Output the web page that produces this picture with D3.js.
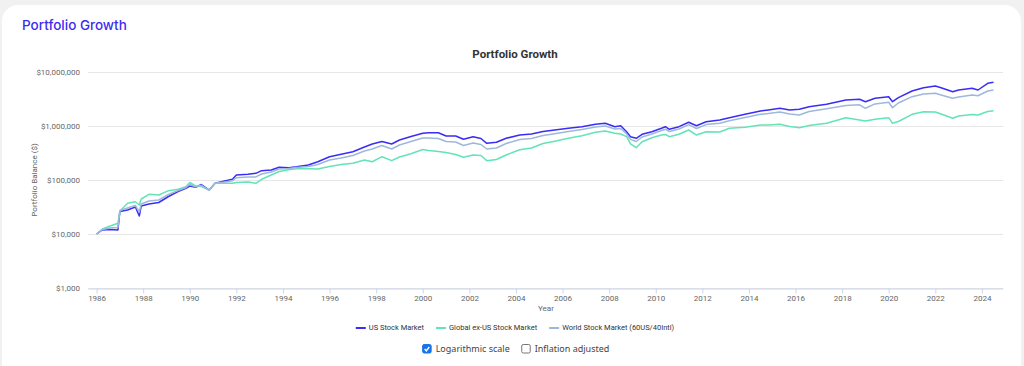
<!DOCTYPE html>
<html>
<head>
<meta charset="utf-8">
<script src="https://cdn.jsdelivr.net/npm/d3@7"></script>
<style>
  html, body { margin: 0; padding: 0; background: #f1f1f1; }
  svg { display: block; font-family: Roboto, "Noto Sans", sans-serif; }
</style>
</head>
<body>
<svg width="1024" height="366"></svg>
<script>
// values, growth of $10,000
var months = [
  "1986-01", "1986-04", "1986-08", "1986-12", "1987-01", "1987-05", "1987-09", "1987-11", "1987-12", "1988-04",
  "1988-09", "1989-02", "1989-07", "1989-11", "1990-01", "1990-04", "1990-07", "1990-11", "1991-02", "1991-07",
  "1991-11", "1992-01", "1992-07", "1992-11", "1993-02", "1993-07", "1993-11", "1994-04", "1994-08", "1995-02",
  "1995-07", "1996-01", "1996-07", "1997-01", "1997-07", "1997-11", "1998-04", "1998-09", "1999-01", "1999-07",
  "2000-01", "2000-04", "2000-09", "2001-01", "2001-06", "2001-10", "2002-03", "2002-07", "2002-10", "2003-03",
  "2003-08", "2004-03", "2004-09", "2005-03", "2005-09", "2006-04", "2006-11", "2007-06", "2007-11", "2008-04",
  "2008-07", "2008-10", "2008-12", "2009-03", "2009-06", "2009-11", "2010-04", "2010-06", "2010-08", "2011-01",
  "2011-06", "2011-10", "2012-03", "2012-10", "2013-03", "2013-11", "2014-07", "2014-11", "2015-05", "2015-10",
  "2016-03", "2016-08", "2017-05", "2018-03", "2018-10", "2019-01", "2019-06", "2020-01", "2020-03", "2020-06",
  "2021-01", "2021-07", "2022-01", "2022-04", "2022-10", "2023-01", "2023-08", "2023-11", "2024-04", "2024-07"
];

var usStock = [
  10000, 11900, 12100, 11900, 26100, 27800, 31600, 21500, 33000, 35900,
  38300, 49500, 61200, 70200, 77400, 73200, 82500, 65300, 86900, 95800,
  103000, 124000, 128000, 133000, 149000, 153000, 172000, 169000, 176000, 190000,
  218000, 270000, 299000, 334000, 408000, 464000, 516000, 464000, 551000, 639000,
  732000, 751000, 751000, 653000, 653000, 567000, 634000, 587000, 478000, 499000,
  592000, 681000, 711000, 791000, 843000, 907000, 971000, 1075000, 1122000, 971000,
  1013000, 784000, 634000, 592000, 702000, 784000, 907000, 971000, 869000, 971000,
  1171000, 1013000, 1201000, 1292000, 1425000, 1647000, 1896000, 1979000, 2127000, 1979000,
  2039000, 2278000, 2523000, 3030000, 3122000, 2818000, 3258000, 3489000, 2818000, 3343000,
  4448000, 5121000, 5505000, 5121000, 4318000, 4642000, 4990000, 4642000, 6177000, 6447000
];

var globalExUs = [
  10000, 12400, 14100, 15800, 26700, 37000, 39600, 34400, 44500, 54300,
  52700, 63400, 67300, 75100, 89900, 77400, 75800, 65300, 86900, 86900,
  86900, 89900, 91800, 86900, 103000, 124000, 144000, 155000, 161000, 161000,
  160000, 178000, 194000, 204000, 235000, 218000, 270000, 228000, 267000, 307000,
  367000, 352000, 337000, 323000, 297000, 263000, 290000, 284000, 228000, 240000,
  290000, 364000, 391000, 474000, 523000, 592000, 661000, 764000, 808000, 732000,
  711000, 634000, 468000, 396000, 512000, 607000, 681000, 696000, 634000, 702000,
  843000, 681000, 784000, 774000, 907000, 946000, 1044000, 1044000, 1075000, 979000,
  930000, 1022000, 1122000, 1425000, 1292000, 1238000, 1331000, 1425000, 1122000, 1212000,
  1647000, 1840000, 1817000, 1668000, 1389000, 1532000, 1633000, 1598000, 1856000, 1920000
];

var worldStock = [
  10000, 12100, 12900, 13200, 27200, 30300, 33700, 25600, 35900, 40800,
  42600, 53900, 63900, 72600, 82500, 74800, 79800, 64500, 86900, 91800,
  97100, 110000, 114000, 114000, 129000, 141000, 160000, 163000, 170000, 178000,
  194000, 235000, 256000, 284000, 344000, 375000, 435000, 375000, 445000, 516000,
  600000, 600000, 587000, 516000, 505000, 435000, 484000, 454000, 375000, 391000,
  474000, 562000, 587000, 667000, 717000, 791000, 858000, 958000, 1000000, 880000,
  899000, 711000, 565000, 516000, 626000, 711000, 825000, 872000, 791000, 880000,
  1061000, 899000, 1061000, 1122000, 1248000, 1437000, 1647000, 1697000, 1817000, 1668000,
  1598000, 1856000, 2082000, 2397000, 2470000, 2127000, 2566000, 2748000, 2182000, 2666000,
  3489000, 3914000, 4033000, 3751000, 3258000, 3444000, 3751000, 3640000, 4448000, 4642000
];

var seriesNames = ["US Stock Market", "Global ex-US Stock Market", "World Stock Market (60US/40Intl)"];
var seriesColors = ["#3b2cf6", "#63e4b8", "#9db8dd"];
var yTicks = [1000, 10000, 100000, 1000000, 10000000];
var xTickYears = d3.range(1986, 2025, 2);
var optionLabels = ["Logarithmic scale", "Inflation adjusted"];
var optionChecked = [true, false];

var svg = d3.select("svg");

// white card
svg.append("rect")
  .attr("x", 2).attr("y", 5)
  .attr("width", 1019).attr("height", 400)
  .attr("rx", 16)
  .attr("fill", "#fff");

svg.append("text")
  .attr("x", 22).attr("y", 30)
  .style("font-family", "Inter, 'Noto Sans', sans-serif")
  .style("font-size", "13.5px")
  .style("font-weight", 500)
  .attr("fill", "#3b2cf2")
  .text("Portfolio Growth");

var parseMonth = d3.timeParse("%Y-%m");
var series = [usStock, globalExUs, worldStock].map(function (vals, i) {
  return {
    name: seriesNames[i],
    color: seriesColors[i],
    values: vals.map(function (v, j) {
      return { date: parseMonth(months[j]), value: v };
    })
  };
});

var x = d3.scaleTime()
  .domain([new Date(1985, 7, 19), new Date(2024, 10, 27)])
  .range([88, 1003]);

var y = d3.scaleLog()
  .domain([1000, 10000000])
  .range([288, 72]);

// grid
svg.append("g")
  .selectAll("line")
  .data(yTicks)
  .enter()
  .append("line")
  .attr("x1", 88).attr("x2", 1003)
  .attr("y1", function (d) { return y(d) + 0.5; })
  .attr("y2", function (d) { return y(d) + 0.5; })
  .attr("stroke", "#e6e6e6");

svg.append("g")
  .selectAll("text")
  .data(yTicks)
  .enter()
  .append("text")
  .attr("x", 80)
  .attr("y", function (d) { return y(d); })
  .attr("dy", "0.32em")
  .attr("text-anchor", "end")
  .attr("fill", "#666")
  .style("font-size", "8px")
  .text(function (d) { return d3.format("$,")(d); });

var xAxis = svg.append("g")
  .attr("transform", "translate(0," + (y(1000) + 0.5) + ")")
  .call(
    d3.axisBottom(x)
      .tickValues(xTickYears.map(function (yr) { return new Date(yr, 0, 1); }))
      .tickFormat(d3.timeFormat("%Y"))
      .tickSize(5)
      .tickPadding(2)
      .tickSizeOuter(0)
  );
xAxis.select(".domain").attr("stroke", "#ccd6eb");
xAxis.selectAll(".tick line").attr("stroke", "#ccd6eb");
xAxis.selectAll(".tick text")
  .attr("fill", "#666")
  .style("font-family", "Roboto, sans-serif")
  .style("font-size", "8px");

// titles
svg.append("text")
  .attr("x", 515).attr("y", 58)
  .attr("text-anchor", "middle")
  .attr("fill", "#333")
  .style("font-size", "11.5px")
  .style("font-weight", "bold")
  .text("Portfolio Growth");

svg.append("text")
  .attr("transform", "translate(37,180) rotate(-90)")
  .attr("text-anchor", "middle")
  .attr("fill", "#666")
  .style("font-size", "8px")
  .text("Portfolio Balance ($)");

svg.append("text")
  .attr("x", 546).attr("y", 311)
  .attr("text-anchor", "middle")
  .attr("fill", "#666")
  .style("font-size", "8px")
  .text("Year");

// lines
var line = d3.line()
  .x(function (d) { return x(d.date); })
  .y(function (d) { return y(d.value); });

svg.append("g")
  .selectAll("path")
  .data(series)
  .enter()
  .append("path")
  .attr("d", function (d) { return line(d.values); })
  .attr("fill", "none")
  .attr("stroke", function (d) { return d.color; })
  .attr("stroke-width", 1.5)
  .attr("stroke-linejoin", "round");

// legend
var legend = svg.append("g");
var lx = 0;
series.forEach(function (s) {
  var item = legend.append("g").attr("transform", "translate(" + lx + ",0)");
  item.append("line")
    .attr("x1", 0).attr("x2", 10)
    .attr("stroke", s.color)
    .attr("stroke-width", 2);
  var t = item.append("text")
    .attr("x", 13)
    .attr("dy", "0.32em")
    .attr("fill", "#333")
    .style("font-size", "7.5px")
    .text(s.name);
  lx += 13 + t.node().getComputedTextLength() + 12;
});
legend.attr("transform", "translate(" + (515 - (lx - 12) / 2) + ",328)");

// checkboxes
var opts = svg.append("g");
var ox = 0;
optionLabels.forEach(function (label, i) {
  var g = opts.append("g").attr("transform", "translate(" + ox + ",0)");
  g.append("rect")
    .attr("x", 0).attr("y", -4.5)
    .attr("width", 8.5).attr("height", 8.5)
    .attr("rx", 1.5)
    .attr("fill", optionChecked[i] ? "#1a73e8" : "#fff")
    .attr("stroke", optionChecked[i] ? "#1a73e8" : "#767676")
    .attr("stroke-width", 1);
  if (optionChecked[i]) {
    g.append("path")
      .attr("d", "M2,0 L3.7,1.8 L6.6,-2")
      .attr("fill", "none")
      .attr("stroke", "#fff")
      .attr("stroke-width", 1.4);
  }
  var t = g.append("text")
    .attr("x", 13)
    .attr("dy", "0.35em")
    .attr("fill", "#444")
    .style("font-family", "'Noto Sans', sans-serif")
    .style("font-size", "9px")
    .text(label);
  ox += 13 + t.node().getComputedTextLength() + 12;
});
opts.attr("transform", "translate(" + (516 - (ox - 12) / 2) + ",349)");
</script>
</body>
</html>
